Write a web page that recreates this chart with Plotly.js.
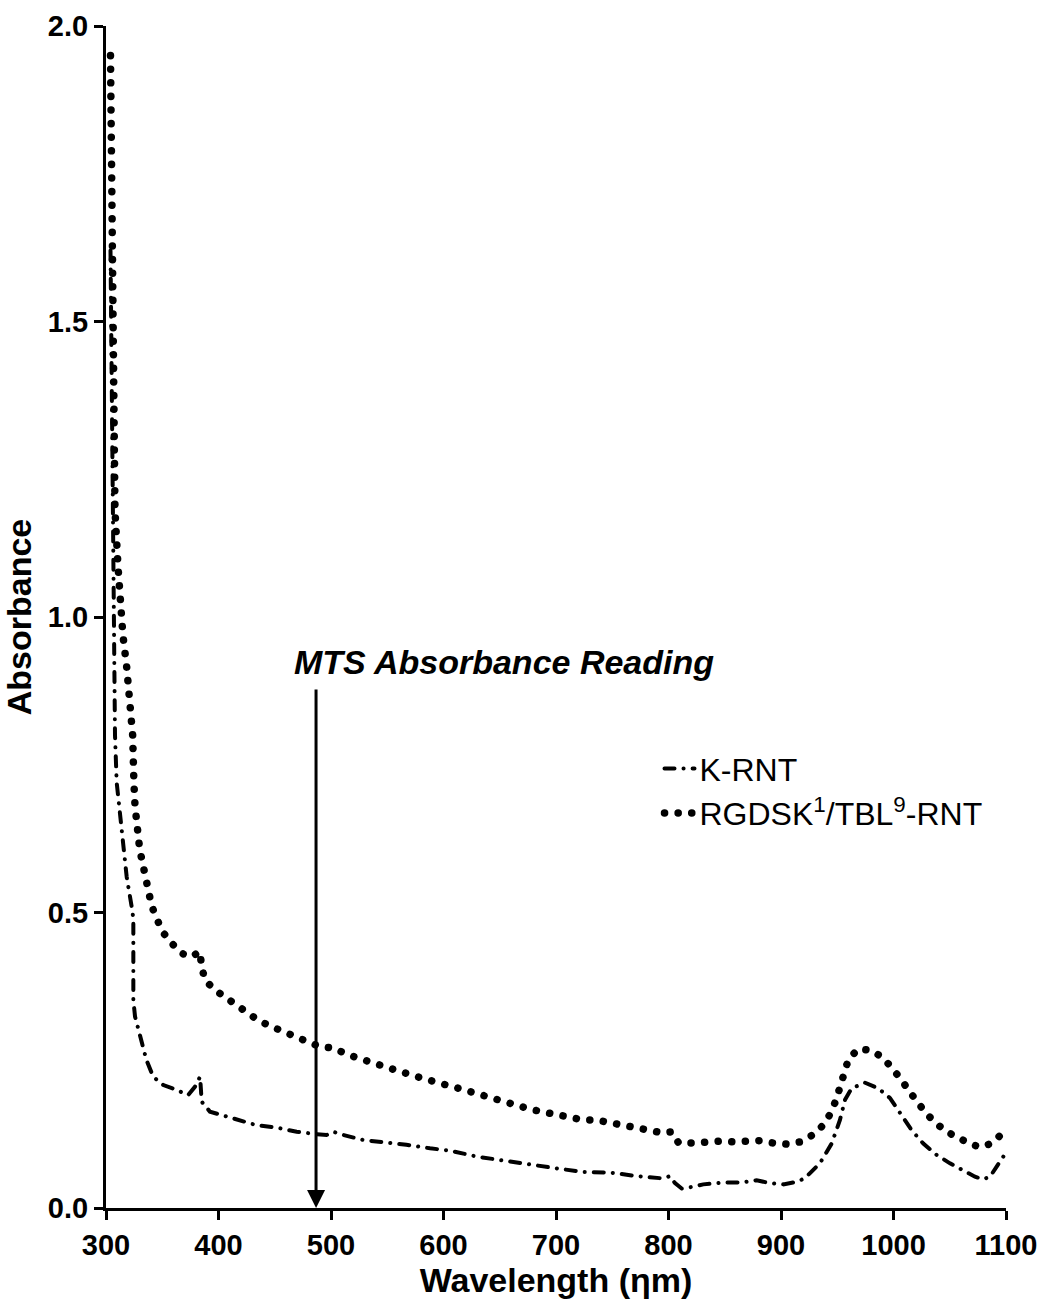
<!DOCTYPE html>
<html>
<head>
<meta charset="utf-8">
<script src="https://cdn.plot.ly/plotly-3.0.1.min.js"></script>
<style>
body{margin:0;background:#fff;}
#chart{width:1048px;height:1301px;}
path.js-line{stroke-linecap:round;}
</style>
</head>
<body>
<div id="chart"></div>
<script>
// K-RNT (dash-dot)
const kX = [304, 305, 306, 306.5, 307, 308, 309.5, 314, 318.4, 322.8, 324.3, 324.3, 324.3, 324.3, 325.8, 330, 336, 342, 351, 361.3, 373, 379, 383.6, 384.4, 385, 392.4, 404, 419, 434, 451.7, 469.5, 487, 496, 502, 511, 528.7, 546.5, 567, 588, 605.8, 629.5, 653, 677, 700.6, 724.3, 748, 771.7, 795.4, 801.3, 805.8, 811.7, 819, 830.9, 848.7, 866.5, 878.4, 890.2, 902, 914, 921, 925.8, 934.7, 945, 952.4, 956.9, 962.8, 974.7, 986.5, 996.9, 1005.8, 1016, 1026.5, 1038.4, 1050.2, 1062, 1072.4, 1079.8, 1085.8, 1091.7, 1099];
const kY = [1.62, 1.4, 1.085, 1.029, 0.915, 0.80, 0.72, 0.634, 0.56, 0.51, 0.49, 0.453, 0.408, 0.352, 0.324, 0.293, 0.25, 0.222, 0.208, 0.201, 0.191, 0.205, 0.222, 0.2, 0.18, 0.163, 0.157, 0.148, 0.14, 0.136, 0.129, 0.125, 0.1235, 0.129, 0.1235, 0.115, 0.112, 0.107, 0.101, 0.097, 0.087, 0.08, 0.073, 0.067, 0.061, 0.06, 0.054, 0.05, 0.054, 0.042, 0.033, 0.035, 0.04, 0.043, 0.0435, 0.047, 0.042, 0.04, 0.0445, 0.05, 0.059, 0.076, 0.109, 0.149, 0.183, 0.2025, 0.212, 0.2025, 0.186, 0.16, 0.132, 0.109, 0.0897, 0.0756, 0.064, 0.053, 0.0486, 0.053, 0.07, 0.091];

// RGDSK1/TBL9-RNT (dotted)
const rX = [304, 305, 305.5, 306.5, 308, 310.7, 312.4, 315, 318.4, 321.3, 323.7, 324.8, 325.8, 330, 334.7, 340.6, 345, 350.4, 358.4, 367, 376, 383.5, 385, 388, 396, 405.8, 414.7, 425, 435, 445.8, 457, 469, 479.6, 490, 501.8, 514, 525, 536, 548, 559.6, 571.7, 583.6, 595, 607, 619, 630.7, 642, 653, 665, 677, 689, 701, 713, 724, 735.6, 748, 759.6, 771.7, 783.6, 795, 802.8, 809, 821.5, 833, 845, 857, 869, 881, 893, 905, 917.5, 928.5, 937.5, 944, 949, 952.4, 956, 960, 968.7, 980, 991, 999, 1006.7, 1013.8, 1021, 1029, 1037.5, 1047, 1058, 1068, 1078, 1087.8, 1096];
const rY = [1.95, 1.75, 1.5, 1.3, 1.18, 1.085, 1.029, 0.97, 0.915, 0.86, 0.80, 0.72, 0.68, 0.606, 0.558, 0.511, 0.49, 0.467, 0.448, 0.431, 0.425, 0.434, 0.408, 0.386, 0.37, 0.357, 0.343, 0.331, 0.318, 0.308, 0.30, 0.291, 0.281, 0.273, 0.271, 0.26, 0.254, 0.245, 0.239, 0.232, 0.225, 0.22, 0.212, 0.206, 0.2, 0.194, 0.186, 0.18, 0.174, 0.167, 0.163, 0.159, 0.154, 0.149, 0.149, 0.145, 0.14, 0.135, 0.131, 0.127, 0.129, 0.11, 0.11, 0.113, 0.113, 0.112, 0.113, 0.114, 0.11, 0.108, 0.112, 0.124, 0.14, 0.16, 0.183, 0.205, 0.229, 0.252, 0.269, 0.267, 0.254, 0.237, 0.218, 0.198, 0.179, 0.16, 0.144, 0.129, 0.119, 0.108, 0.103, 0.11, 0.125];

const seriesNames = ['K-RNT', 'RGDSK<sup>1</sup>/TBL<sup>9</sup>-RNT'];
const xTicks = [300, 400, 500, 600, 700, 800, 900, 1000, 1100];
const yTicks = [0, 0.5, 1.0, 1.5, 2.0];
const mtsWavelength = 486.7;
const annotationText = 'MTS Absorbance Reading';

const tickFont = {family: '"Liberation Sans", Arial, sans-serif', size: 29, color: '#000', weight: 'bold'};
const titleFont = {family: '"Liberation Sans", Arial, sans-serif', size: 34, color: '#000', weight: 'bold'};

const traces = [
  {x: kX, y: kY, name: seriesNames[0], mode: 'lines', type: 'scatter',
   line: {color: '#000', width: 4, dash: '10px,9px,0.1px,9px'}},
  {x: rX, y: rY, name: seriesNames[1], mode: 'lines', type: 'scatter',
   line: {color: '#000', width: 7.5, dash: '0.1px,13.5px'}}
];

const axisCommon = {
  showline: true, linewidth: 3, linecolor: '#000', mirror: false,
  ticks: 'outside', ticklen: 9, tickwidth: 3, tickcolor: '#000',
  showgrid: false, zeroline: false, tickfont: tickFont
};

const layout = {
  width: 1048, height: 1301,
  margin: {l: 106, r: 42, t: 26, b: 93},
  paper_bgcolor: '#fff', plot_bgcolor: '#fff',
  showlegend: true,
  legend: {x: 0.615, y: 0.395, xanchor: 'left', yanchor: 'top',
           font: {family: '"Liberation Sans", Arial, sans-serif', size: 32, color: '#000'},
           bgcolor: 'rgba(0,0,0,0)', itemwidth: 30, tracegroupgap: 0},
  xaxis: Object.assign({}, axisCommon, {
    range: [300, 1100], tickvals: xTicks, ticktext: xTicks.map(String),
    title: {text: 'Wavelength (ηm)', font: titleFont, standoff: 6}
  }),
  yaxis: Object.assign({}, axisCommon, {
    range: [0, 2], tickvals: yTicks, ticktext: yTicks.map(v => v.toFixed(1)),
    title: {text: 'Absorbance', font: titleFont, standoff: 6}
  }),
  annotations: [
    {x: 654, y: 0.924, xref: 'x', yref: 'y', text: '<b><i>' + annotationText + '</i></b>',
     showarrow: false, font: {family: '"Liberation Sans", Arial, sans-serif', size: 34, color: '#000'}},
    {x: mtsWavelength, y: 0, xref: 'x', yref: 'y', axref: 'x', ayref: 'y',
     ax: mtsWavelength, ay: 0.88, text: '', showarrow: true,
     arrowhead: 2, arrowsize: 1.2, arrowwidth: 3, arrowcolor: '#000'}
  ]
};

Plotly.newPlot('chart', traces, layout, {staticPlot: true});
</script>
</body>
</html>
